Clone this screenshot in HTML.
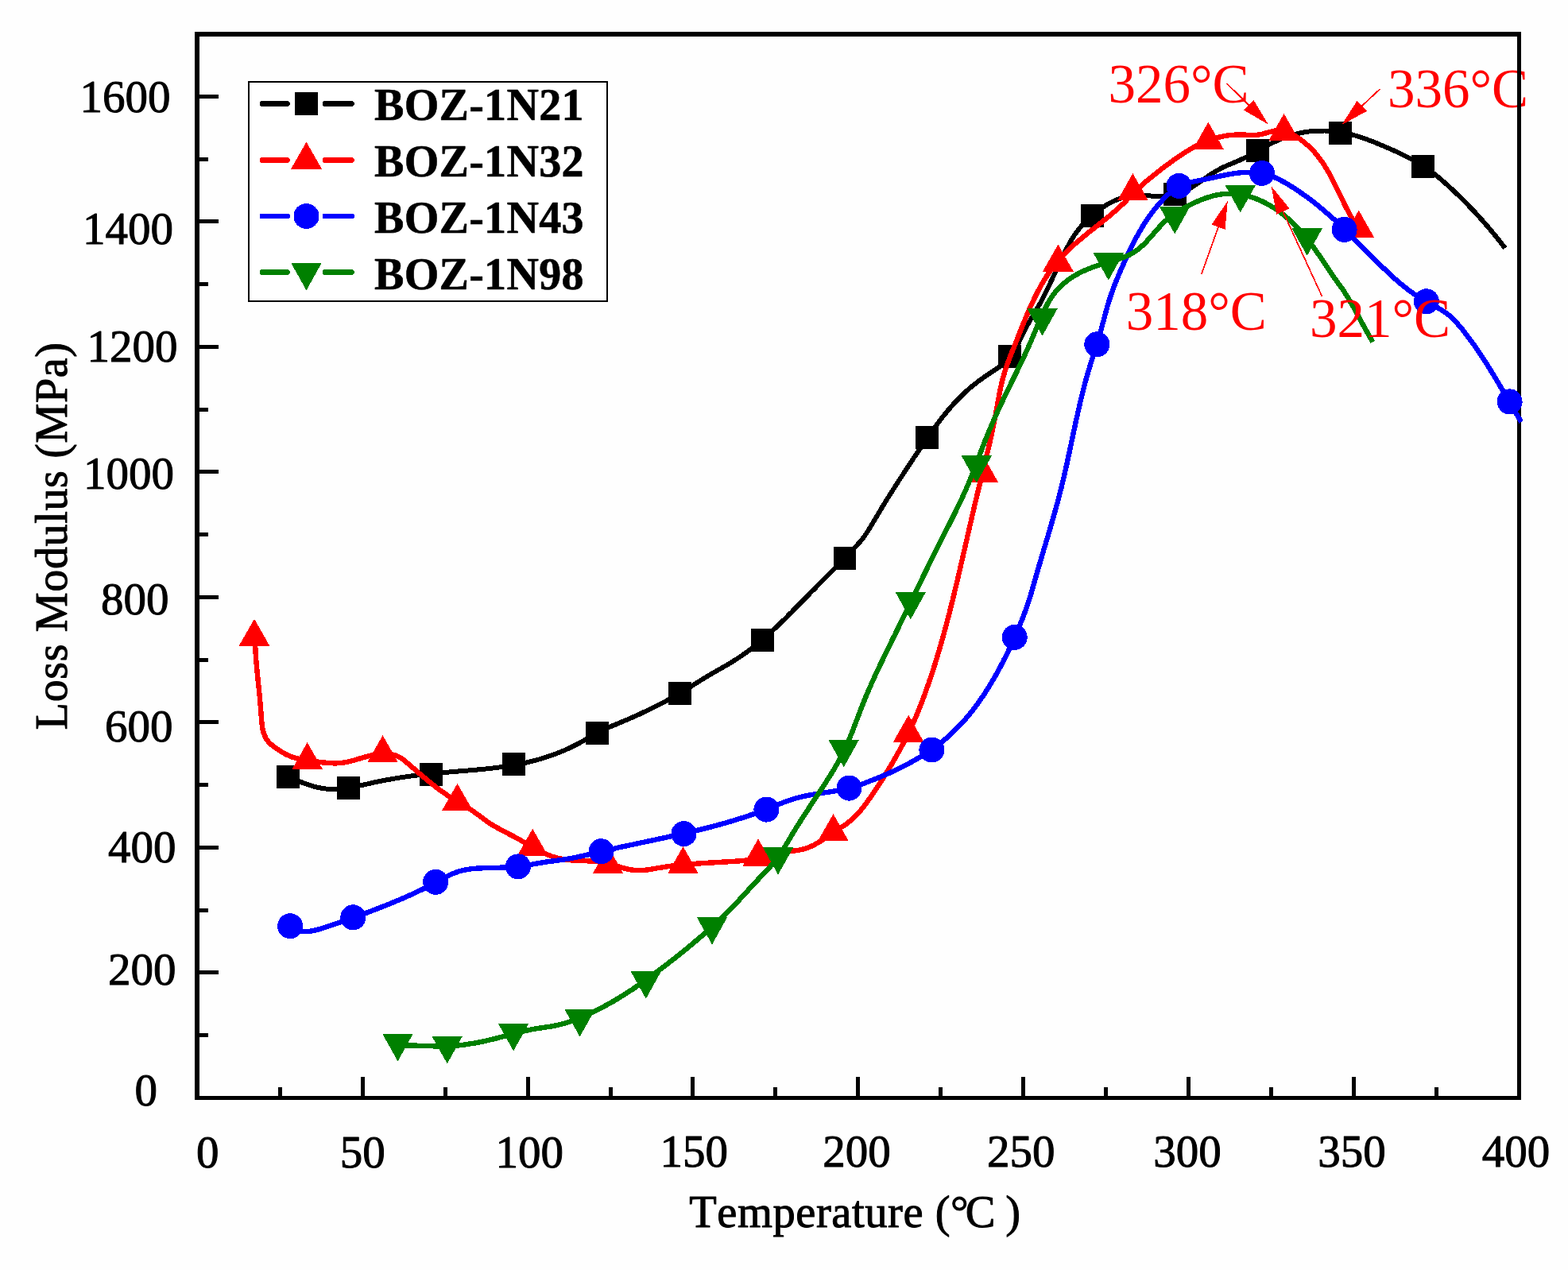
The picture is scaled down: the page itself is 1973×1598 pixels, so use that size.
<!DOCTYPE html>
<html lang="en"><head><meta charset="utf-8"><title>Loss Modulus vs Temperature</title>
<style>html,body{margin:0;padding:0;background:#fff}body{width:1973px;height:1598px;overflow:hidden}svg{display:block}text{font-family:"Liberation Serif",serif;stroke-linejoin:round;font-kerning:none}</style></head><body>
<svg width="1973" height="1598" viewBox="0 0 1973 1598" shape-rendering="crispEdges">
<rect width="1973" height="1598" fill="#fefefe"/>
<g id="notes-a" fill="#ff0000" stroke="#ff0000" stroke-width="0" font-size="69">
<text x="1746.0" y="135.4">336°C</text>
</g>
<g id="axes" fill="#000">
<path d="M245 40H1914V1384H245ZM251 46V1379H1909V46Z" fill-rule="evenodd"/>
<rect x="248.0" y="1300.1" width="13.8" height="5.0"/>
<rect x="248.0" y="1221.4" width="26.8" height="5.0"/>
<rect x="248.0" y="1142.6" width="13.8" height="5.0"/>
<rect x="248.0" y="1063.9" width="26.8" height="5.0"/>
<rect x="248.0" y="985.1" width="13.8" height="5.0"/>
<rect x="248.0" y="906.4" width="26.8" height="5.0"/>
<rect x="248.0" y="827.6" width="13.8" height="5.0"/>
<rect x="248.0" y="748.9" width="26.8" height="5.0"/>
<rect x="248.0" y="670.1" width="13.8" height="5.0"/>
<rect x="248.0" y="591.3" width="26.8" height="5.0"/>
<rect x="248.0" y="512.6" width="13.8" height="5.0"/>
<rect x="248.0" y="433.8" width="26.8" height="5.0"/>
<rect x="248.0" y="355.1" width="13.8" height="5.0"/>
<rect x="248.0" y="276.3" width="26.8" height="5.0"/>
<rect x="248.0" y="197.6" width="13.8" height="5.0"/>
<rect x="248.0" y="118.8" width="26.8" height="5.0"/>
<rect x="349.8" y="1367.6" width="5.0" height="13.8"/>
<rect x="453.8" y="1354.6" width="5.0" height="26.8"/>
<rect x="557.7" y="1367.6" width="5.0" height="13.8"/>
<rect x="661.6" y="1354.6" width="5.0" height="26.8"/>
<rect x="765.5" y="1367.6" width="5.0" height="13.8"/>
<rect x="869.4" y="1354.6" width="5.0" height="26.8"/>
<rect x="973.4" y="1367.6" width="5.0" height="13.8"/>
<rect x="1077.3" y="1354.6" width="5.0" height="26.8"/>
<rect x="1181.2" y="1367.6" width="5.0" height="13.8"/>
<rect x="1285.2" y="1354.6" width="5.0" height="26.8"/>
<rect x="1389.1" y="1367.6" width="5.0" height="13.8"/>
<rect x="1493.0" y="1354.6" width="5.0" height="26.8"/>
<rect x="1596.9" y="1367.6" width="5.0" height="13.8"/>
<rect x="1700.9" y="1354.6" width="5.0" height="26.8"/>
<rect x="1804.8" y="1367.6" width="5.0" height="13.8"/>
</g>
<clipPath id="plotclip"><rect x="245.0" y="40.0" width="1671.0" height="1344.4"/></clipPath>
<g id="series" clip-path="url(#plotclip)">
<g id="s-black">
<path d="M362.4 977.2L365.9 978.7L369.5 980.3L373.2 981.8L376.9 983.3L380.7 984.8L384.6 986.2L388.4 987.6L392.4 988.8L396.3 989.9L400.2 990.9L404.2 991.7L408.2 992.3L412.1 992.7L416.1 992.9L420.0 993.0L424.0 992.8L427.9 992.6L431.8 992.2L435.8 991.7L439.7 991.1L443.6 990.4L447.6 989.7L451.5 988.8L455.4 988.0L459.3 987.1L463.3 986.2L467.2 985.3L471.1 984.4L475.1 983.6L479.0 982.8L482.9 982.0L486.8 981.3L490.8 980.6L494.7 979.9L498.7 979.2L502.6 978.6L506.5 978.0L510.5 977.4L514.4 976.9L518.4 976.3L522.3 975.8L526.3 975.4L530.2 974.9L534.2 974.4L538.2 974.0L542.1 973.6L546.1 973.2L550.1 972.8L554.0 972.4L558.0 972.1L562.0 971.7L566.0 971.4L570.0 971.1L573.9 970.7L577.9 970.4L581.9 970.1L585.9 969.8L589.9 969.4L593.9 969.1L597.9 968.7L601.8 968.4L605.8 968.0L609.8 967.6L613.8 967.2L617.8 966.7L621.7 966.3L625.7 965.8L629.7 965.3L633.6 964.7L637.6 964.1L641.5 963.5L645.5 962.8L649.4 962.1L653.3 961.4L657.2 960.6L661.1 959.8L665.0 958.9L668.9 957.9L672.8 956.9L676.7 955.9L680.5 954.8L684.3 953.6L688.1 952.4L691.9 951.2L695.7 949.9L699.4 948.5L703.2 947.0L706.9 945.5L710.5 944.0L714.2 942.3L717.8 940.7L721.4 938.9L725.0 937.1L728.5 935.2L732.0 933.3L735.5 931.3L739.0 929.3L742.4 927.3L745.9 925.3L749.4 923.4L752.9 921.5L756.5 919.7L760.1 918.0L763.7 916.3L767.3 914.7L771.0 913.1L774.7 911.6L778.4 910.0L782.0 908.5L785.7 906.9L789.4 905.4L793.1 903.8L796.8 902.2L800.4 900.6L804.1 898.9L807.7 897.2L811.3 895.5L815.0 893.8L818.6 892.1L822.2 890.3L825.7 888.5L829.3 886.7L832.9 884.9L836.4 883.0L839.9 881.1L843.4 879.2L846.9 877.2L850.4 875.2L853.8 873.2L857.2 871.2L860.7 869.1L864.1 867.1L867.4 865.0L870.8 862.9L874.2 860.7L877.6 858.6L881.0 856.5L884.4 854.4L887.8 852.3L891.2 850.3L894.7 848.2L898.2 846.2L901.7 844.2L905.2 842.2L908.6 840.2L912.1 838.2L915.6 836.2L919.1 834.1L922.5 832.0L925.9 829.9L929.2 827.7L932.5 825.5L935.8 823.2L939.0 820.9L942.2 818.5L945.4 816.1L948.5 813.7L951.7 811.2L954.7 808.7L957.8 806.1L960.8 803.5L963.8 800.9L966.8 798.3L969.8 795.6L972.7 792.9L975.6 790.2L978.5 787.4L981.4 784.7L984.3 781.9L987.2 779.1L990.0 776.3L992.8 773.4L995.7 770.6L998.5 767.7L1001.3 764.9L1004.1 762.0L1006.9 759.2L1009.7 756.3L1012.5 753.4L1015.3 750.6L1018.1 747.7L1020.9 744.8L1023.8 742.0L1026.6 739.2L1029.4 736.3L1032.2 733.5L1035.1 730.6L1037.9 727.8L1040.7 725.0L1043.5 722.1L1046.3 719.3L1049.2 716.5L1052.0 713.6L1054.8 710.8L1057.6 707.9L1060.4 705.1L1063.1 702.2L1065.9 699.3L1068.7 696.4L1071.4 693.5L1074.2 690.6L1076.9 687.7L1079.5 684.7L1082.2 681.7L1084.7 678.6L1087.1 675.5L1089.4 672.2L1091.6 668.9L1093.7 665.6L1095.8 662.1L1097.9 658.7L1099.9 655.2L1101.9 651.8L1104.0 648.3L1106.0 644.9L1108.1 641.5L1110.1 638.0L1112.2 634.6L1114.3 631.2L1116.4 627.8L1118.6 624.4L1120.7 621.0L1122.8 617.7L1125.0 614.3L1127.1 610.9L1129.3 607.5L1131.4 604.2L1133.6 600.8L1135.8 597.5L1138.0 594.2L1140.1 590.8L1142.3 587.5L1144.5 584.2L1146.7 580.9L1148.9 577.5L1151.1 574.2L1153.4 570.9L1155.6 567.6L1157.8 564.3L1160.0 560.9L1162.3 557.6L1164.6 554.3L1166.8 551.0L1169.1 547.7L1171.4 544.4L1173.7 541.2L1176.1 537.9L1178.5 534.7L1180.9 531.5L1183.3 528.3L1185.7 525.1L1188.2 522.0L1190.8 518.9L1193.3 515.8L1195.9 512.8L1198.5 509.8L1201.2 506.9L1203.9 504.0L1206.7 501.1L1209.5 498.3L1212.4 495.5L1215.3 492.8L1218.3 490.1L1221.3 487.5L1224.4 485.0L1227.6 482.5L1230.8 480.0L1234.0 477.7L1237.3 475.3L1240.6 473.0L1244.0 470.7L1247.4 468.5L1250.7 466.3L1254.1 464.0L1257.4 461.7L1260.6 459.3L1263.7 456.8L1266.6 454.2L1269.3 451.4L1271.8 448.5L1274.1 445.3L1276.2 442.0L1278.2 438.5L1280.0 435.0L1281.8 431.4L1283.5 427.7L1285.2 424.0L1287.0 420.4L1288.8 416.7L1290.6 413.1L1292.5 409.6L1294.5 406.1L1296.5 402.6L1298.5 399.2L1300.6 395.8L1302.6 392.3L1304.6 388.9L1306.6 385.4L1308.6 382.0L1310.5 378.5L1312.4 374.9L1314.2 371.4L1316.0 367.8L1317.7 364.3L1319.4 360.7L1321.2 357.0L1322.8 353.4L1324.5 349.8L1326.2 346.1L1327.9 342.5L1329.5 338.9L1331.2 335.2L1332.9 331.6L1334.6 328.0L1336.3 324.3L1338.1 320.7L1339.9 317.1L1341.7 313.6L1343.6 310.0L1345.5 306.5L1347.5 303.0L1349.6 299.6L1351.7 296.2L1354.0 293.0L1356.3 289.8L1358.8 286.7L1361.4 283.6L1364.1 280.8L1366.9 277.9L1369.8 275.2L1372.8 272.5L1375.9 269.9L1379.0 267.3L1382.2 264.8L1385.5 262.4L1388.8 260.1L1392.2 257.9L1395.6 255.9L1399.1 254.1L1402.7 252.4L1406.3 251.0L1410.1 249.7L1413.8 248.6L1417.7 247.8L1421.5 247.1L1425.5 246.6L1429.5 246.3L1433.5 246.1L1437.6 246.1L1441.7 246.2L1445.8 246.4L1449.9 246.6L1454.0 246.7L1458.1 246.8L1462.2 246.8L1466.2 246.7L1470.1 246.5L1474.0 246.0L1477.8 245.3L1481.6 244.3L1485.2 243.0L1488.8 241.5L1492.3 239.8L1495.8 238.0L1499.2 235.9L1502.6 233.8L1506.0 231.6L1509.3 229.3L1512.7 226.9L1516.0 224.6L1519.4 222.2L1522.7 219.9L1526.1 217.7L1529.6 215.6L1533.1 213.6L1536.6 211.8L1540.2 210.0L1543.8 208.4L1547.5 206.8L1551.1 205.3L1554.8 203.8L1558.4 202.2L1562.0 200.6L1565.6 198.9L1569.2 197.2L1572.7 195.3L1576.1 193.3L1579.6 191.3L1583.1 189.3L1586.6 187.3L1590.1 185.4L1593.6 183.5L1597.2 181.7L1600.8 179.9L1604.4 178.2L1608.0 176.5L1611.7 175.0L1615.4 173.5L1619.2 172.1L1623.0 170.8L1626.8 169.7L1630.6 168.6L1634.5 167.7L1638.4 166.9L1642.4 166.2L1646.3 165.6L1650.3 165.1L1654.3 164.8L1658.3 164.6L1662.4 164.5L1666.4 164.5L1670.4 164.6L1674.4 164.9L1678.4 165.2L1682.4 165.7L1686.3 166.3L1690.3 167.0L1694.2 167.8L1698.0 168.7L1701.9 169.7L1705.7 170.7L1709.5 171.9L1713.3 173.1L1717.1 174.4L1720.9 175.8L1724.6 177.2L1728.4 178.6L1732.1 180.1L1735.8 181.7L1739.5 183.2L1743.2 184.8L1746.9 186.4L1750.5 188.0L1754.2 189.6L1757.9 191.3L1761.5 193.0L1765.1 194.7L1768.7 196.5L1772.3 198.3L1775.8 200.1L1779.3 202.0L1782.8 204.0L1786.2 206.0L1789.6 208.1L1792.9 210.3L1796.2 212.6L1799.4 214.9L1802.6 217.3L1805.8 219.7L1808.9 222.2L1812.0 224.8L1815.1 227.4L1818.1 230.0L1821.1 232.7L1824.0 235.4L1827.0 238.1L1829.9 240.8L1832.8 243.6L1835.7 246.4L1838.5 249.2L1841.4 252.0L1844.2 254.8L1847.0 257.7L1849.8 260.6L1852.5 263.5L1855.3 266.4L1858.0 269.3L1860.7 272.3L1863.3 275.2L1866.0 278.2L1868.6 281.2L1871.2 284.2L1873.8 287.3L1876.4 290.3L1878.9 293.4L1881.5 296.5L1884.0 299.6L1886.5 302.7L1889.0 305.9L1891.4 309.1L1893.8 312.2" fill="none" stroke="#000000" stroke-width="6.0" stroke-linejoin="round" stroke-linecap="butt"/>
<rect x="348.1" y="962.8" width="28.8" height="28.8" fill="#000000"/>
<rect x="424.1" y="977.1" width="28.8" height="28.8" fill="#000000"/>
<rect x="528.0" y="960.1" width="28.8" height="28.8" fill="#000000"/>
<rect x="631.9" y="947.4" width="28.8" height="28.8" fill="#000000"/>
<rect x="737.1" y="907.7" width="28.8" height="28.8" fill="#000000"/>
<rect x="841.1" y="858.1" width="28.8" height="28.8" fill="#000000"/>
<rect x="944.7" y="791.0" width="28.8" height="28.8" fill="#000000"/>
<rect x="1048.6" y="687.9" width="28.8" height="28.8" fill="#000000"/>
<rect x="1152.2" y="536.2" width="28.8" height="28.8" fill="#000000"/>
<rect x="1256.2" y="433.8" width="28.8" height="28.8" fill="#000000"/>
<rect x="1360.3" y="257.1" width="28.8" height="28.8" fill="#000000"/>
<rect x="1463.8" y="230.1" width="28.8" height="28.8" fill="#000000"/>
<rect x="1568.1" y="174.9" width="28.8" height="28.8" fill="#000000"/>
<rect x="1672.0" y="153.1" width="28.8" height="28.8" fill="#000000"/>
<rect x="1776.0" y="195.1" width="28.8" height="28.8" fill="#000000"/>
</g>
<g id="s-red">
<path d="M320.9 802.5L321.0 806.6L321.1 810.7L321.3 814.7L321.5 818.7L321.7 822.7L322.0 826.7L322.3 830.7L322.6 834.6L323.0 838.6L323.3 842.5L323.7 846.4L324.1 850.3L324.5 854.3L324.9 858.2L325.3 862.1L325.7 866.1L326.1 870.0L326.5 874.0L326.9 878.0L327.2 882.0L327.6 886.0L327.9 890.0L328.2 894.1L328.5 898.1L328.8 902.3L329.1 906.4L329.5 910.4L330.0 914.4L330.7 918.3L331.7 922.1L333.1 925.7L334.7 929.1L336.9 932.3L339.5 935.2L342.5 937.9L345.8 940.4L349.3 942.7L352.8 945.0L356.2 947.1L359.7 949.1L363.3 950.8L366.9 952.3L370.7 953.4L374.5 954.4L378.3 955.1L382.2 955.8L386.2 956.4L390.2 957.0L394.2 957.7L398.2 958.3L402.2 958.9L406.2 959.4L410.3 959.8L414.3 960.1L418.3 960.3L422.2 960.4L426.2 960.2L430.1 959.8L434.0 959.3L437.9 958.5L441.8 957.6L445.6 956.6L449.4 955.5L453.3 954.3L457.1 953.2L461.0 952.1L464.8 951.0L468.7 950.0L472.6 949.2L476.6 948.6L480.6 948.2L484.6 948.1L488.6 948.4L492.6 949.1L496.5 950.1L500.2 951.5L503.7 953.3L506.9 955.5L510.1 958.0L513.1 960.6L516.2 963.2L519.2 965.8L522.2 968.5L525.3 971.1L528.3 973.7L531.4 976.3L534.4 978.9L537.5 981.4L540.6 984.0L543.7 986.5L546.9 988.9L550.0 991.4L553.2 993.8L556.4 996.1L559.7 998.4L562.9 1000.7L566.3 1002.9L569.6 1005.1L573.0 1007.2L576.4 1009.2L579.9 1011.2L583.4 1013.2L586.8 1015.2L590.2 1017.3L593.6 1019.5L596.8 1021.8L600.0 1024.1L603.2 1026.5L606.4 1028.9L609.6 1031.3L612.8 1033.6L616.1 1035.8L619.5 1038.0L622.9 1040.0L626.4 1042.0L630.0 1043.9L633.5 1045.8L637.1 1047.6L640.6 1049.5L644.2 1051.3L647.7 1053.2L651.2 1055.1L654.7 1057.0L658.1 1059.0L661.5 1061.0L664.9 1063.0L668.4 1065.0L671.8 1066.9L675.4 1068.9L678.9 1070.7L682.6 1072.5L686.2 1074.2L689.9 1075.8L693.7 1077.3L697.5 1078.5L701.3 1079.6L705.2 1080.5L709.1 1081.2L713.1 1081.7L717.1 1082.2L721.0 1082.5L725.1 1082.7L729.1 1082.9L733.1 1083.0L737.1 1083.2L741.1 1083.4L745.1 1083.6L749.1 1083.9L753.1 1084.3L757.0 1084.8L760.9 1085.4L764.8 1086.3L768.6 1087.3L772.4 1088.5L776.2 1089.7L779.9 1091.0L783.8 1092.1L787.6 1093.1L791.5 1094.0L795.5 1094.6L799.5 1095.0L803.5 1095.1L807.5 1095.1L811.4 1094.8L815.4 1094.3L819.4 1093.7L823.3 1093.0L827.3 1092.3L831.2 1091.7L835.2 1091.0L839.1 1090.4L843.1 1089.9L847.1 1089.4L851.0 1088.9L855.0 1088.5L859.0 1088.1L862.9 1087.7L866.9 1087.4L870.9 1087.1L874.9 1086.8L878.8 1086.5L882.8 1086.2L886.8 1086.0L890.8 1085.7L894.8 1085.5L898.8 1085.3L902.7 1085.1L906.7 1084.8L910.7 1084.6L914.7 1084.4L918.7 1084.1L922.7 1083.9L926.7 1083.6L930.7 1083.3L934.7 1083.0L938.7 1082.6L942.6 1082.2L946.6 1081.7L950.5 1081.0L954.4 1080.3L958.3 1079.4L962.2 1078.5L966.1 1077.4L969.9 1076.4L973.8 1075.3L977.7 1074.3L981.5 1073.4L985.4 1072.6L989.4 1071.9L993.3 1071.3L997.3 1070.8L1001.3 1070.3L1005.2 1069.7L1009.1 1068.9L1013.0 1067.8L1016.8 1066.5L1020.5 1065.0L1024.1 1063.3L1027.6 1061.3L1031.1 1059.3L1034.4 1057.1L1037.7 1054.9L1041.0 1052.6L1044.2 1050.3L1047.5 1048.0L1050.9 1045.8L1054.3 1043.6L1057.7 1041.5L1061.1 1039.3L1064.4 1037.1L1067.6 1034.7L1070.7 1032.3L1073.7 1029.6L1076.6 1026.9L1079.3 1024.0L1081.9 1021.0L1084.4 1017.9L1086.9 1014.7L1089.3 1011.5L1091.7 1008.3L1094.0 1005.0L1096.3 1001.7L1098.6 998.5L1100.8 995.1L1103.1 991.8L1105.3 988.5L1107.5 985.1L1109.6 981.8L1111.8 978.4L1113.9 975.0L1116.0 971.6L1118.0 968.2L1120.1 964.7L1122.1 961.3L1124.1 957.8L1126.1 954.4L1128.1 950.9L1130.0 947.4L1132.0 944.0L1133.9 940.5L1135.7 937.0L1137.6 933.4L1139.4 929.9L1141.2 926.3L1143.0 922.8L1144.7 919.2L1146.4 915.6L1148.1 911.9L1149.7 908.3L1151.3 904.6L1152.9 901.0L1154.4 897.3L1155.9 893.6L1157.4 889.9L1158.9 886.1L1160.3 882.4L1161.7 878.6L1163.1 874.9L1164.5 871.1L1165.8 867.4L1167.1 863.6L1168.5 859.8L1169.7 856.0L1171.0 852.2L1172.3 848.4L1173.5 844.7L1174.8 840.8L1176.0 837.0L1177.2 833.2L1178.3 829.4L1179.5 825.6L1180.6 821.8L1181.8 817.9L1182.9 814.1L1184.0 810.3L1185.1 806.4L1186.2 802.6L1187.3 798.8L1188.3 794.9L1189.4 791.1L1190.4 787.2L1191.4 783.3L1192.4 779.5L1193.5 775.6L1194.5 771.8L1195.4 767.9L1196.4 764.0L1197.4 760.1L1198.4 756.3L1199.3 752.4L1200.3 748.5L1201.2 744.6L1202.1 740.8L1203.1 736.9L1204.0 733.0L1204.9 729.1L1205.8 725.2L1206.7 721.3L1207.6 717.4L1208.5 713.5L1209.4 709.6L1210.3 705.7L1211.2 701.9L1212.1 698.0L1213.0 694.1L1213.9 690.2L1214.8 686.3L1215.7 682.4L1216.6 678.5L1217.4 674.6L1218.3 670.7L1219.2 666.8L1220.1 662.9L1221.0 659.0L1221.9 655.1L1222.8 651.2L1223.7 647.3L1224.6 643.5L1225.5 639.6L1226.4 635.7L1227.3 631.8L1228.3 627.9L1229.2 624.0L1230.1 620.1L1231.1 616.3L1232.0 612.4L1233.0 608.5L1233.9 604.6L1234.9 600.8L1235.8 596.9L1236.8 593.0L1237.7 589.1L1238.7 585.2L1239.6 581.4L1240.5 577.5L1241.5 573.6L1242.4 569.7L1243.3 565.8L1244.2 561.9L1245.1 558.1L1246.0 554.2L1246.9 550.3L1247.7 546.4L1248.6 542.5L1249.4 538.5L1250.2 534.6L1251.0 530.7L1251.8 526.8L1252.6 522.8L1253.3 518.9L1254.0 515.0L1254.7 511.0L1255.4 507.1L1256.1 503.1L1256.9 499.2L1257.6 495.2L1258.4 491.3L1259.2 487.4L1260.1 483.5L1261.0 479.7L1262.0 475.8L1263.1 472.0L1264.2 468.2L1265.4 464.4L1266.7 460.7L1268.0 456.9L1269.4 453.2L1270.8 449.5L1272.2 445.8L1273.7 442.1L1275.2 438.4L1276.7 434.7L1278.2 430.9L1279.7 427.2L1281.1 423.5L1282.6 419.8L1284.1 416.0L1285.6 412.3L1287.1 408.6L1288.7 404.8L1290.2 401.1L1291.7 397.4L1293.3 393.7L1294.9 390.0L1296.5 386.3L1298.2 382.6L1299.9 379.0L1301.6 375.4L1303.3 371.8L1305.1 368.2L1307.0 364.7L1308.9 361.2L1310.8 357.7L1312.8 354.3L1314.9 350.9L1317.0 347.5L1319.2 344.2L1321.4 341.0L1323.7 337.8L1326.1 334.6L1328.6 331.5L1331.1 328.4L1333.7 325.4L1336.4 322.5L1339.2 319.6L1342.0 316.8L1344.9 314.0L1347.8 311.2L1350.8 308.5L1353.8 305.8L1356.9 303.2L1360.0 300.6L1363.1 298.0L1366.2 295.5L1369.3 292.9L1372.5 290.4L1375.6 288.0L1378.7 285.5L1381.9 283.0L1385.0 280.5L1388.1 278.1L1391.2 275.6L1394.2 273.1L1397.3 270.6L1400.3 268.0L1403.3 265.4L1406.3 262.8L1409.2 260.1L1412.1 257.4L1415.0 254.6L1417.8 251.7L1420.6 248.8L1423.4 245.9L1426.2 243.0L1429.1 240.2L1432.0 237.5L1434.9 234.7L1437.9 232.1L1440.9 229.4L1443.9 226.8L1447.0 224.3L1450.0 221.8L1453.2 219.3L1456.3 216.8L1459.4 214.4L1462.6 211.9L1465.8 209.5L1469.0 207.1L1472.2 204.8L1475.5 202.4L1478.7 200.1L1482.0 197.8L1485.3 195.5L1488.6 193.3L1492.0 191.2L1495.4 189.1L1498.8 187.1L1502.3 185.1L1505.8 183.3L1509.4 181.5L1513.0 179.8L1516.6 178.3L1520.4 176.8L1524.1 175.4L1527.9 174.2L1531.8 173.1L1535.7 172.2L1539.7 171.4L1543.6 170.7L1547.6 170.1L1551.6 169.8L1555.6 169.5L1559.6 169.5L1563.6 169.5L1567.6 169.7L1571.6 169.9L1575.6 170.0L1579.5 169.9L1583.4 169.6L1587.3 168.9L1591.2 167.9L1595.1 166.8L1599.0 165.7L1602.9 164.8L1606.9 164.2L1610.8 164.0L1614.7 164.3L1618.5 165.2L1622.2 166.6L1625.8 168.5L1629.3 170.6L1632.7 172.9L1636.0 175.3L1639.3 177.7L1642.4 180.3L1645.5 182.9L1648.4 185.6L1651.2 188.4L1653.9 191.3L1656.5 194.3L1658.9 197.4L1661.3 200.6L1663.6 203.8L1665.8 207.1L1667.9 210.4L1670.0 213.8L1672.0 217.3L1673.9 220.8L1675.8 224.3L1677.6 227.9L1679.4 231.5L1681.2 235.1L1683.0 238.7L1684.7 242.3L1686.5 246.0L1688.2 249.6L1690.0 253.2L1691.7 256.8L1693.5 260.4L1695.4 264.0L1697.2 267.5L1699.1 271.0L1701.1 274.5L1703.1 277.9L1705.1 281.3L1707.3 284.5L1709.5 287.8" fill="none" stroke="#ff0000" stroke-width="6.4" stroke-linejoin="round" stroke-linecap="butt"/>
<path d="M320.0 778.7L339.3 812.7L300.7 812.7Z" fill="#ff0000"/>
<path d="M386.7 934.1L406.0 968.1L367.4 968.1Z" fill="#ff0000"/>
<path d="M481.6 925.2L500.9 959.2L462.3 959.2Z" fill="#ff0000"/>
<path d="M575.5 985.8L594.8 1019.8L556.2 1019.8Z" fill="#ff0000"/>
<path d="M670.2 1042.7L689.5 1076.7L650.9 1076.7Z" fill="#ff0000"/>
<path d="M765.1 1065.1L784.4 1099.1L745.8 1099.1Z" fill="#ff0000"/>
<path d="M859.5 1065.1L878.8 1099.1L840.2 1099.1Z" fill="#ff0000"/>
<path d="M954.0 1055.5L973.3 1089.5L934.7 1089.5Z" fill="#ff0000"/>
<path d="M1048.5 1024.1L1067.8 1058.1L1029.2 1058.1Z" fill="#ff0000"/>
<path d="M1143.2 899.6L1162.5 933.6L1123.9 933.6Z" fill="#ff0000"/>
<path d="M1237.0 573.2L1256.3 607.2L1217.7 607.2Z" fill="#ff0000"/>
<path d="M1331.4 307.5L1350.7 341.5L1312.1 341.5Z" fill="#ff0000"/>
<path d="M1425.4 218.1L1444.7 252.1L1406.1 252.1Z" fill="#ff0000"/>
<path d="M1520.4 153.6L1539.7 187.6L1501.1 187.6Z" fill="#ff0000"/>
<path d="M1615.6 143.0L1634.9 177.0L1596.3 177.0Z" fill="#ff0000"/>
<path d="M1709.7 264.5L1729.0 298.5L1690.4 298.5Z" fill="#ff0000"/>
</g>
<g id="s-blue">
<path d="M365.1 1165.2L369.0 1167.8L372.8 1169.8L376.6 1171.1L380.5 1171.9L384.3 1172.1L388.2 1172.0L392.0 1171.5L395.9 1170.7L399.7 1169.7L403.6 1168.6L407.4 1167.4L411.2 1166.1L415.0 1164.8L418.9 1163.6L422.7 1162.3L426.5 1161.0L430.3 1159.7L434.1 1158.4L437.9 1157.1L441.6 1155.7L445.4 1154.4L449.2 1153.0L452.9 1151.6L456.7 1150.3L460.4 1148.9L464.2 1147.5L467.9 1146.0L471.6 1144.6L475.4 1143.2L479.1 1141.7L482.8 1140.3L486.5 1138.8L490.2 1137.3L493.9 1135.8L497.6 1134.3L501.2 1132.7L504.9 1131.2L508.6 1129.6L512.2 1128.0L515.9 1126.3L519.5 1124.7L523.1 1123.0L526.7 1121.3L530.3 1119.6L533.9 1117.8L537.5 1116.0L541.1 1114.2L544.6 1112.3L548.2 1110.4L551.7 1108.5L555.3 1106.5L558.8 1104.6L562.4 1102.8L566.0 1101.0L569.6 1099.4L573.3 1097.9L577.0 1096.6L580.8 1095.5L584.7 1094.6L588.6 1093.9L592.6 1093.3L596.6 1092.9L600.6 1092.6L604.7 1092.4L608.7 1092.2L612.8 1092.1L616.8 1092.0L620.8 1091.9L624.8 1091.8L628.9 1091.7L632.9 1091.6L636.8 1091.5L640.8 1091.3L644.8 1091.0L648.8 1090.6L652.7 1090.2L656.7 1089.7L660.6 1089.1L664.5 1088.5L668.5 1087.8L672.4 1087.1L676.4 1086.4L680.3 1085.7L684.2 1085.0L688.2 1084.4L692.2 1083.9L696.1 1083.4L700.1 1082.8L704.1 1082.3L708.0 1081.7L712.0 1081.1L715.9 1080.5L719.9 1079.7L723.8 1079.0L727.7 1078.2L731.6 1077.3L735.5 1076.4L739.4 1075.5L743.3 1074.6L747.2 1073.7L751.0 1072.8L754.9 1071.8L758.8 1070.9L762.7 1070.0L766.6 1069.1L770.5 1068.2L774.4 1067.4L778.3 1066.5L782.2 1065.6L786.1 1064.8L790.0 1063.9L794.0 1063.1L797.9 1062.3L801.8 1061.4L805.7 1060.6L809.6 1059.8L813.5 1058.9L817.5 1058.1L821.4 1057.3L825.3 1056.4L829.2 1055.6L833.1 1054.8L837.0 1053.9L840.9 1053.1L844.9 1052.2L848.8 1051.4L852.7 1050.5L856.6 1049.6L860.5 1048.8L864.4 1047.9L868.3 1047.0L872.2 1046.0L876.1 1045.1L879.9 1044.2L883.8 1043.2L887.7 1042.2L891.6 1041.3L895.4 1040.3L899.3 1039.2L903.2 1038.2L907.0 1037.1L910.9 1036.1L914.7 1035.0L918.5 1033.8L922.4 1032.7L926.2 1031.5L930.0 1030.3L933.8 1029.1L937.6 1027.9L941.4 1026.6L945.2 1025.3L949.0 1024.0L952.7 1022.6L956.5 1021.2L960.2 1019.8L964.0 1018.4L967.7 1016.9L971.4 1015.4L975.1 1013.9L978.9 1012.4L982.6 1010.9L986.3 1009.5L990.1 1008.1L993.9 1006.8L997.7 1005.6L1001.5 1004.4L1005.3 1003.4L1009.2 1002.5L1013.1 1001.6L1017.0 1000.8L1020.9 1000.1L1024.9 999.4L1028.8 998.7L1032.8 998.1L1036.8 997.5L1040.7 996.9L1044.7 996.3L1048.7 995.6L1052.7 995.0L1056.6 994.2L1060.5 993.4L1064.4 992.6L1068.3 991.6L1072.1 990.6L1075.9 989.5L1079.7 988.3L1083.5 987.0L1087.2 985.7L1090.9 984.3L1094.6 982.8L1098.3 981.4L1102.1 979.9L1105.8 978.4L1109.5 976.8L1113.1 975.3L1116.8 973.7L1120.5 972.0L1124.2 970.3L1127.8 968.6L1131.4 966.9L1135.0 965.1L1138.6 963.2L1142.2 961.4L1145.7 959.5L1149.2 957.5L1152.7 955.5L1156.2 953.5L1159.6 951.4L1163.0 949.3L1166.4 947.1L1169.7 944.9L1173.0 942.6L1176.2 940.3L1179.4 937.9L1182.6 935.5L1185.7 933.0L1188.8 930.5L1191.8 927.9L1194.8 925.3L1197.7 922.6L1200.6 919.8L1203.4 917.1L1206.2 914.2L1208.9 911.3L1211.6 908.4L1214.3 905.4L1216.9 902.4L1219.4 899.3L1221.9 896.2L1224.4 893.1L1226.8 889.9L1229.2 886.7L1231.6 883.4L1233.9 880.1L1236.2 876.8L1238.4 873.5L1240.6 870.1L1242.8 866.7L1244.9 863.3L1247.0 859.8L1249.0 856.4L1251.1 852.9L1253.1 849.4L1255.0 845.9L1256.9 842.4L1258.8 838.8L1260.7 835.3L1262.5 831.7L1264.3 828.1L1266.1 824.6L1267.9 821.0L1269.6 817.4L1271.3 813.8L1273.0 810.2L1274.6 806.6L1276.2 803.0L1277.8 799.3L1279.4 795.7L1281.0 792.0L1282.5 788.3L1284.0 784.6L1285.5 780.9L1287.0 777.2L1288.4 773.5L1289.8 769.7L1291.2 765.9L1292.5 762.1L1293.8 758.3L1295.1 754.5L1296.2 750.7L1297.4 746.9L1298.5 743.1L1299.6 739.2L1300.7 735.4L1301.8 731.5L1302.9 727.7L1304.0 723.9L1305.1 720.0L1306.2 716.2L1307.3 712.3L1308.5 708.5L1309.6 704.7L1310.7 700.8L1311.9 697.0L1313.0 693.2L1314.1 689.3L1315.3 685.5L1316.4 681.7L1317.6 677.8L1318.7 674.0L1319.8 670.2L1321.0 666.3L1322.1 662.5L1323.2 658.7L1324.3 654.8L1325.4 651.0L1326.5 647.1L1327.6 643.3L1328.7 639.4L1329.7 635.6L1330.8 631.7L1331.8 627.8L1332.8 624.0L1333.8 620.1L1334.8 616.2L1335.8 612.3L1336.7 608.5L1337.6 604.6L1338.6 600.7L1339.5 596.8L1340.3 592.9L1341.2 589.0L1342.1 585.1L1343.0 581.2L1343.8 577.3L1344.6 573.3L1345.5 569.4L1346.3 565.5L1347.2 561.6L1348.0 557.7L1348.8 553.8L1349.6 549.9L1350.5 545.9L1351.3 542.0L1352.1 538.1L1353.0 534.2L1353.8 530.3L1354.7 526.4L1355.6 522.5L1356.4 518.6L1357.3 514.7L1358.2 510.8L1359.1 506.9L1360.0 503.0L1361.0 499.1L1361.9 495.2L1362.9 491.3L1363.9 487.5L1364.9 483.6L1365.9 479.7L1367.0 475.9L1368.1 472.0L1369.2 468.2L1370.3 464.4L1371.5 460.5L1372.7 456.7L1373.9 452.9L1375.1 449.1L1376.4 445.3L1377.6 441.5L1378.9 437.7L1380.1 433.9L1381.2 430.1L1382.4 426.2L1383.5 422.4L1384.5 418.5L1385.6 414.6L1386.6 410.8L1387.6 406.9L1388.7 403.0L1389.7 399.1L1390.7 395.3L1391.8 391.4L1392.9 387.5L1394.0 383.7L1395.1 379.9L1396.3 376.1L1397.6 372.3L1398.9 368.5L1400.2 364.8L1401.6 361.0L1403.0 357.3L1404.5 353.6L1406.0 349.9L1407.5 346.2L1409.1 342.6L1410.6 338.9L1412.3 335.2L1413.9 331.6L1415.5 327.9L1417.2 324.3L1418.9 320.6L1420.6 317.0L1422.3 313.4L1424.1 309.8L1425.9 306.2L1427.8 302.7L1429.6 299.1L1431.6 295.6L1433.5 292.1L1435.6 288.7L1437.6 285.2L1439.7 281.8L1441.9 278.5L1444.1 275.1L1446.4 271.9L1448.8 268.6L1451.2 265.4L1453.6 262.3L1456.2 259.2L1458.8 256.1L1461.5 253.1L1464.2 250.2L1467.1 247.3L1470.0 244.5L1473.0 241.8L1476.1 239.2L1479.3 236.9L1482.6 234.8L1486.1 233.1L1489.6 231.7L1493.3 230.5L1497.1 229.5L1500.9 228.7L1504.8 227.9L1508.7 227.2L1512.7 226.4L1516.7 225.6L1520.7 224.7L1524.8 223.9L1528.8 223.0L1532.9 222.1L1536.9 221.2L1541.0 220.4L1545.0 219.6L1549.1 218.9L1553.1 218.2L1557.2 217.7L1561.2 217.3L1565.2 216.9L1569.2 216.7L1573.1 216.7L1577.1 216.8L1581.0 217.1L1584.8 217.6L1588.6 218.3L1592.4 219.2L1596.2 220.4L1599.9 221.7L1603.5 223.1L1607.1 224.7L1610.7 226.5L1614.3 228.4L1617.8 230.3L1621.3 232.4L1624.7 234.5L1628.1 236.7L1631.5 238.9L1634.8 241.2L1638.1 243.4L1641.4 245.8L1644.7 248.1L1647.9 250.5L1651.1 252.9L1654.2 255.3L1657.4 257.8L1660.5 260.3L1663.5 262.9L1666.6 265.5L1669.6 268.1L1672.6 270.7L1675.6 273.4L1678.6 276.0L1681.5 278.8L1684.4 281.5L1687.3 284.2L1690.2 287.0L1693.0 289.8L1695.9 292.6L1698.7 295.4L1701.6 298.3L1704.4 301.1L1707.2 303.9L1710.1 306.8L1712.9 309.6L1715.7 312.5L1718.5 315.3L1721.3 318.2L1724.1 321.0L1727.0 323.9L1729.8 326.7L1732.7 329.5L1735.5 332.3L1738.4 335.1L1741.3 337.8L1744.2 340.6L1747.1 343.3L1750.0 346.0L1753.0 348.7L1755.9 351.4L1759.0 354.0L1762.0 356.6L1765.0 359.1L1768.1 361.6L1771.3 364.1L1774.4 366.5L1777.7 368.8L1780.9 371.1L1784.2 373.3L1787.6 375.5L1791.0 377.6L1794.5 379.6L1798.1 381.5L1801.7 383.4L1805.2 385.2L1808.8 387.1L1812.3 389.1L1815.7 391.2L1819.0 393.4L1822.2 395.8L1825.2 398.4L1828.1 401.1L1830.9 403.9L1833.6 406.9L1836.2 409.9L1838.8 413.0L1841.3 416.1L1843.8 419.3L1846.2 422.5L1848.6 425.7L1851.0 428.9L1853.3 432.2L1855.7 435.4L1857.9 438.7L1860.2 442.0L1862.4 445.3L1864.7 448.7L1866.8 452.0L1869.0 455.4L1871.2 458.7L1873.3 462.1L1875.4 465.5L1877.5 468.9L1879.6 472.4L1881.7 475.8L1883.7 479.2L1885.8 482.7L1887.8 486.1L1889.8 489.5L1891.9 493.0L1893.9 496.4L1895.9 499.9L1897.9 503.4L1899.9 506.8L1902.0 510.3L1904.0 513.7L1906.0 517.2L1908.0 520.6L1910.1 524.0L1912.1 527.5L1914.2 530.9" fill="none" stroke="#0000ff" stroke-width="6.4" stroke-linejoin="round" stroke-linecap="butt"/>
<circle cx="365.1" cy="1165.2" r="16.0" fill="#0000ff"/>
<circle cx="444.3" cy="1154.3" r="16.0" fill="#0000ff"/>
<circle cx="548.2" cy="1109.8" r="16.0" fill="#0000ff"/>
<circle cx="651.9" cy="1090.4" r="16.0" fill="#0000ff"/>
<circle cx="756.6" cy="1071.2" r="16.0" fill="#0000ff"/>
<circle cx="860.5" cy="1049.1" r="16.0" fill="#0000ff"/>
<circle cx="964.4" cy="1018.6" r="16.0" fill="#0000ff"/>
<circle cx="1068.5" cy="991.6" r="16.0" fill="#0000ff"/>
<circle cx="1172.4" cy="943.5" r="16.0" fill="#0000ff"/>
<circle cx="1276.7" cy="801.9" r="16.0" fill="#0000ff"/>
<circle cx="1380.3" cy="433.3" r="16.0" fill="#0000ff"/>
<circle cx="1483.5" cy="233.9" r="16.0" fill="#0000ff"/>
<circle cx="1587.9" cy="217.9" r="16.0" fill="#0000ff"/>
<circle cx="1691.6" cy="288.8" r="16.0" fill="#0000ff"/>
<circle cx="1794.8" cy="379.3" r="16.0" fill="#0000ff"/>
<circle cx="1899.6" cy="505.4" r="16.0" fill="#0000ff"/>
</g>
<g id="s-green">
<path d="M500.5 1316.1L504.5 1315.9L508.5 1315.7L512.5 1315.6L516.5 1315.6L520.5 1315.6L524.5 1315.7L528.5 1315.8L532.5 1315.9L536.5 1316.1L540.5 1316.2L544.5 1316.3L548.5 1316.4L552.6 1316.4L556.6 1316.4L560.6 1316.4L564.6 1316.2L568.5 1316.0L572.5 1315.7L576.5 1315.4L580.5 1315.0L584.4 1314.5L588.4 1313.9L592.3 1313.3L596.3 1312.7L600.2 1311.9L604.1 1311.2L608.0 1310.4L611.9 1309.5L615.8 1308.6L619.7 1307.7L623.6 1306.7L627.5 1305.7L631.3 1304.7L635.2 1303.6L639.1 1302.6L643.0 1301.6L646.8 1300.5L650.7 1299.5L654.6 1298.6L658.5 1297.6L662.3 1296.7L666.2 1295.9L670.2 1295.1L674.1 1294.4L678.0 1293.8L682.0 1293.2L685.9 1292.6L689.8 1292.0L693.8 1291.4L697.7 1290.7L701.6 1289.9L705.5 1288.9L709.4 1287.9L713.2 1286.7L717.0 1285.5L720.8 1284.1L724.6 1282.7L728.4 1281.3L732.1 1279.7L735.8 1278.2L739.4 1276.5L743.1 1274.9L746.7 1273.2L750.3 1271.4L753.8 1269.6L757.4 1267.8L760.9 1265.9L764.4 1264.0L767.9 1262.0L771.4 1260.1L774.8 1258.0L778.2 1256.0L781.6 1253.9L785.0 1251.8L788.4 1249.6L791.7 1247.5L795.1 1245.3L798.4 1243.1L801.7 1240.8L805.0 1238.5L808.2 1236.2L811.5 1233.9L814.7 1231.6L818.0 1229.2L821.2 1226.9L824.4 1224.5L827.6 1222.1L830.8 1219.7L834.0 1217.2L837.2 1214.8L840.3 1212.4L843.5 1209.9L846.7 1207.5L849.8 1205.0L852.9 1202.5L856.1 1200.0L859.2 1197.5L862.3 1195.0L865.4 1192.5L868.5 1189.9L871.5 1187.4L874.6 1184.8L877.6 1182.2L880.7 1179.6L883.7 1177.0L886.7 1174.4L889.7 1171.7L892.7 1169.1L895.7 1166.4L898.6 1163.7L901.6 1161.0L904.5 1158.3L907.4 1155.5L910.3 1152.8L913.1 1150.0L916.0 1147.2L918.8 1144.4L921.6 1141.5L924.4 1138.6L927.1 1135.7L929.8 1132.8L932.5 1129.9L935.2 1126.9L937.9 1124.0L940.6 1121.0L943.3 1118.0L946.0 1115.1L948.7 1112.1L951.4 1109.2L954.2 1106.3L957.0 1103.4L959.7 1100.5L962.5 1097.6L965.2 1094.7L968.0 1091.7L970.6 1088.7L973.2 1085.7L975.7 1082.6L978.2 1079.5L980.5 1076.3L982.8 1073.0L985.0 1069.6L987.1 1066.2L989.1 1062.8L991.2 1059.4L993.2 1055.9L995.3 1052.5L997.3 1049.0L999.4 1045.6L1001.5 1042.2L1003.6 1038.8L1005.8 1035.4L1007.9 1032.1L1010.1 1028.7L1012.3 1025.4L1014.4 1022.0L1016.6 1018.7L1018.8 1015.3L1021.0 1012.0L1023.2 1008.7L1025.4 1005.3L1027.6 1002.0L1029.8 998.6L1032.0 995.3L1034.2 992.0L1036.4 988.6L1038.6 985.2L1040.7 981.9L1042.9 978.5L1045.0 975.1L1047.1 971.7L1049.2 968.3L1051.2 964.8L1053.2 961.4L1055.2 957.9L1057.1 954.4L1059.0 950.8L1060.8 947.3L1062.5 943.7L1064.2 940.1L1065.9 936.4L1067.5 932.8L1069.0 929.1L1070.5 925.4L1072.0 921.7L1073.5 918.0L1074.9 914.2L1076.3 910.5L1077.7 906.7L1079.2 903.0L1080.6 899.2L1082.0 895.5L1083.4 891.8L1084.9 888.0L1086.4 884.3L1087.9 880.6L1089.4 876.9L1090.9 873.2L1092.5 869.5L1094.1 865.9L1095.7 862.2L1097.3 858.6L1099.0 854.9L1100.6 851.3L1102.3 847.7L1104.0 844.0L1105.7 840.4L1107.4 836.8L1109.1 833.2L1110.9 829.6L1112.6 826.0L1114.3 822.4L1116.1 818.8L1117.8 815.2L1119.6 811.6L1121.4 808.0L1123.1 804.4L1124.9 800.9L1126.7 797.3L1128.4 793.7L1130.2 790.1L1131.9 786.5L1133.7 782.9L1135.4 779.3L1137.2 775.7L1138.9 772.1L1140.7 768.5L1142.4 764.9L1144.2 761.3L1145.9 757.7L1147.6 754.2L1149.4 750.6L1151.1 747.0L1152.9 743.4L1154.6 739.8L1156.4 736.2L1158.1 732.6L1159.9 729.0L1161.6 725.4L1163.4 721.8L1165.1 718.2L1166.9 714.6L1168.6 711.0L1170.4 707.5L1172.2 703.9L1173.9 700.3L1175.7 696.7L1177.5 693.1L1179.3 689.5L1181.1 686.0L1182.9 682.4L1184.6 678.8L1186.5 675.3L1188.3 671.7L1190.1 668.1L1191.9 664.5L1193.7 661.0L1195.5 657.4L1197.3 653.8L1199.1 650.3L1200.9 646.7L1202.7 643.1L1204.4 639.5L1206.2 635.9L1207.9 632.3L1209.6 628.7L1211.3 625.1L1212.9 621.4L1214.6 617.8L1216.2 614.1L1217.8 610.5L1219.3 606.8L1220.8 603.1L1222.3 599.4L1223.8 595.7L1225.2 591.9L1226.7 588.2L1228.1 584.5L1229.5 580.7L1230.9 577.0L1232.4 573.3L1233.8 569.5L1235.2 565.8L1236.6 562.1L1238.1 558.3L1239.5 554.6L1241.0 550.9L1242.5 547.2L1244.0 543.5L1245.6 539.8L1247.2 536.2L1248.7 532.5L1250.3 528.9L1252.0 525.2L1253.6 521.6L1255.2 517.9L1256.9 514.3L1258.6 510.7L1260.3 507.0L1262.0 503.4L1263.7 499.8L1265.4 496.2L1267.2 492.6L1268.9 489.0L1270.7 485.4L1272.4 481.8L1274.2 478.2L1276.0 474.6L1277.7 471.0L1279.5 467.5L1281.2 463.9L1283.0 460.3L1284.7 456.7L1286.4 453.0L1288.2 449.4L1289.8 445.8L1291.5 442.2L1293.2 438.5L1294.8 434.9L1296.4 431.2L1298.0 427.6L1299.5 423.9L1301.0 420.2L1302.6 416.5L1304.1 412.8L1305.6 409.2L1307.2 405.5L1308.8 401.8L1310.4 398.1L1312.1 394.5L1313.8 390.9L1315.5 387.3L1317.4 383.7L1319.3 380.2L1321.4 376.8L1323.6 373.4L1325.9 370.2L1328.3 367.0L1330.9 364.0L1333.7 361.1L1336.6 358.3L1339.7 355.7L1342.8 353.2L1346.1 350.8L1349.4 348.6L1352.8 346.5L1356.3 344.6L1359.8 342.7L1363.4 341.0L1367.1 339.4L1370.8 337.9L1374.5 336.4L1378.3 335.1L1382.1 333.8L1385.9 332.5L1389.7 331.3L1393.6 330.1L1397.5 329.0L1401.4 327.8L1405.3 326.7L1409.1 325.4L1412.9 324.1L1416.6 322.7L1420.2 321.1L1423.7 319.3L1427.1 317.3L1430.3 315.0L1433.5 312.6L1436.5 310.0L1439.4 307.2L1442.2 304.4L1445.0 301.4L1447.7 298.4L1450.4 295.3L1453.0 292.3L1455.6 289.2L1458.3 286.3L1461.0 283.3L1463.8 280.5L1466.7 277.8L1469.7 275.2L1472.8 272.7L1476.0 270.4L1479.3 268.1L1482.6 265.9L1486.0 263.9L1489.5 261.9L1493.1 260.0L1496.6 258.1L1500.3 256.4L1503.9 254.7L1507.6 253.0L1511.4 251.5L1515.1 250.0L1518.9 248.7L1522.7 247.5L1526.6 246.4L1530.5 245.5L1534.4 244.8L1538.3 244.2L1542.2 243.8L1546.2 243.7L1550.1 243.7L1554.1 243.9L1558.1 244.4L1562.0 245.0L1566.0 245.8L1569.9 246.7L1573.8 247.8L1577.6 249.1L1581.4 250.5L1585.1 252.0L1588.8 253.7L1592.4 255.5L1595.9 257.4L1599.4 259.4L1602.8 261.5L1606.1 263.7L1609.4 266.0L1612.6 268.3L1615.7 270.8L1618.8 273.4L1621.8 276.0L1624.8 278.7L1627.6 281.5L1630.5 284.3L1633.2 287.2L1635.9 290.2L1638.5 293.2L1641.1 296.2L1643.7 299.3L1646.1 302.4L1648.6 305.6L1651.0 308.8L1653.4 312.0L1655.7 315.3L1658.0 318.6L1660.3 321.8L1662.5 325.2L1664.8 328.5L1667.0 331.8L1669.2 335.1L1671.4 338.4L1673.6 341.8L1675.9 345.0L1678.1 348.3L1680.4 351.6L1682.7 354.8L1685.1 358.0L1687.4 361.2L1689.7 364.4L1691.9 367.8L1694.0 371.1L1696.1 374.5L1698.1 377.9L1700.1 381.3L1702.1 384.8L1704.1 388.3L1706.0 391.8L1707.9 395.3L1709.8 398.8L1711.7 402.4L1713.6 405.9L1715.5 409.4L1717.4 412.9L1719.4 416.5L1721.3 419.9L1723.3 423.4L1725.3 426.9L1727.3 430.3" fill="none" stroke="#008000" stroke-width="6.4" stroke-linejoin="round" stroke-linecap="butt"/>
<path d="M481.2 1300.8L519.8 1300.8L500.5 1335.4Z" fill="#008000"/>
<path d="M543.4 1303.8L582.0 1303.8L562.7 1338.4Z" fill="#008000"/>
<path d="M626.8 1287.8L665.4 1287.8L646.1 1322.4Z" fill="#008000"/>
<path d="M710.3 1269.9L748.9 1269.9L729.6 1304.5Z" fill="#008000"/>
<path d="M793.5 1222.0L832.1 1222.0L812.8 1256.6Z" fill="#008000"/>
<path d="M876.7 1153.9L915.3 1153.9L896.0 1188.5Z" fill="#008000"/>
<path d="M959.8 1066.0L998.4 1066.0L979.1 1100.6Z" fill="#008000"/>
<path d="M1042.4 930.8L1081.0 930.8L1061.7 965.4Z" fill="#008000"/>
<path d="M1126.5 744.8L1165.1 744.8L1145.8 779.4Z" fill="#008000"/>
<path d="M1209.5 573.1L1248.1 573.1L1228.8 607.7Z" fill="#008000"/>
<path d="M1292.3 388.0L1330.9 388.0L1311.6 422.6Z" fill="#008000"/>
<path d="M1375.5 318.0L1414.1 318.0L1394.8 352.6Z" fill="#008000"/>
<path d="M1458.9 259.9L1497.5 259.9L1478.2 294.5Z" fill="#008000"/>
<path d="M1541.4 232.9L1580.0 232.9L1560.7 267.5Z" fill="#008000"/>
<path d="M1625.4 287.2L1664.0 287.2L1644.7 321.8Z" fill="#008000"/>
</g>
</g>
<g id="notes-b" fill="#ff0000" stroke="#ff0000" stroke-width="0" font-size="69">
<text x="1394.5" y="129.0">326°C</text>
<text x="1416.7" y="414.6">318°C</text>
<text x="1648.0" y="423.6">321°C</text>
</g>
<g id="arrows" fill="#ff0000" stroke="#ff0000">
<line x1="1543.7" y1="105.0" x2="1571.1" y2="132.1" stroke-width="1.7"/>
<path d="M1596.0 156.7L1564.8 138.5L1577.4 125.7Z" stroke="none"/>
<line x1="1736.3" y1="112.1" x2="1713.7" y2="133.3" stroke-width="1.7"/>
<path d="M1688.2 157.2L1707.6 126.7L1719.9 139.8Z" stroke="none"/>
<line x1="1511.7" y1="345.2" x2="1533.0" y2="285.7" stroke-width="1.7"/>
<path d="M1544.8 252.8L1541.5 288.8L1524.5 282.7Z" stroke="none"/>
<line x1="1663.5" y1="372.9" x2="1614.3" y2="266.1" stroke-width="1.7"/>
<path d="M1599.7 234.3L1622.5 262.3L1606.2 269.9Z" stroke="none"/>
</g>
<g id="ticklabels" fill="#000" stroke="#000" stroke-width="1.0" font-size="57">
<text x="214.5" y="141.3" text-anchor="end">1600</text>
<text x="218.0" y="306.5" text-anchor="end">1400</text>
<text x="223.5" y="455.0" text-anchor="end">1200</text>
<text x="219.0" y="615.2" text-anchor="end">1000</text>
<text x="212.5" y="772.9" text-anchor="end">800</text>
<text x="217.5" y="933.4" text-anchor="end">600</text>
<text x="221.5" y="1084.6" text-anchor="end">400</text>
<text x="221.5" y="1238.9" text-anchor="end">200</text>
<text x="198.0" y="1390.9" text-anchor="end">0</text>
<text x="261.3" y="1468.7" text-anchor="middle">0</text>
<text x="456.3" y="1468.7" text-anchor="middle">50</text>
<text x="666.3" y="1468.7" text-anchor="middle">100</text>
<text x="873.2" y="1468.0" text-anchor="middle">150</text>
<text x="1078.1" y="1467.6" text-anchor="middle">200</text>
<text x="1284.8" y="1467.6" text-anchor="middle">250</text>
<text x="1493.9" y="1467.6" text-anchor="middle">300</text>
<text x="1701.0" y="1467.6" text-anchor="middle">350</text>
<text x="1907.5" y="1467.6" text-anchor="middle">400</text>
</g>
<text x="867.3" y="1543.5" font-size="56.5" fill="#000" stroke="#000" stroke-width="1.0" letter-spacing="0.55" dx="0 0 0 0 0 0 0 0 0 0 0 0 0 0 -4.5 -2.5 0" xml:space="preserve">Temperature (°C )</text>
<text transform="translate(84.4 918.2) rotate(-90)" font-size="56" fill="#000" stroke="#000" stroke-width="1.0" letter-spacing="0.65">Loss Modulus (MPa)</text>
<g id="legend">
<rect x="313.2" y="102.7" width="451.0" height="275.8" fill="#fff" stroke="#000" stroke-width="2.0"/>
<path d="M330.0 130.4H361.5M409.0 130.4H442.5" stroke="#000000" stroke-width="6.8" stroke-linecap="round" fill="none"/>
<rect x="371.1" y="116.0" width="28.8" height="28.8" fill="#000000"/>
<text x="471.0" y="150.9" font-size="56" font-weight="bold" fill="#000" stroke="#000" stroke-width="0.6" letter-spacing="0.3">BOZ-1N21</text>
<path d="M330.0 201.4H361.5M409.0 201.4H442.5" stroke="#ff0000" stroke-width="6.8" stroke-linecap="round" fill="none"/>
<path d="M385.5 178.5L404.8 212.5L366.2 212.5Z" fill="#ff0000"/>
<text x="471.0" y="221.9" font-size="56" font-weight="bold" fill="#000" stroke="#000" stroke-width="0.6" letter-spacing="0.3">BOZ-1N32</text>
<path d="M330.0 272.0H361.5M409.0 272.0H442.5" stroke="#0000ff" stroke-width="6.8" stroke-linecap="round" fill="none"/>
<circle cx="385.5" cy="272.0" r="16.0" fill="#0000ff"/>
<text x="471.0" y="293.0" font-size="56" font-weight="bold" fill="#000" stroke="#000" stroke-width="0.6" letter-spacing="0.3">BOZ-1N43</text>
<path d="M330.0 342.6H361.5M409.0 342.6H442.5" stroke="#008000" stroke-width="6.8" stroke-linecap="round" fill="none"/>
<path d="M366.2 330.8L404.8 330.8L385.5 365.4Z" fill="#008000"/>
<text x="471.0" y="363.5" font-size="56" font-weight="bold" fill="#000" stroke="#000" stroke-width="0.6" letter-spacing="0.3">BOZ-1N98</text>
</g>
</svg></body></html>
